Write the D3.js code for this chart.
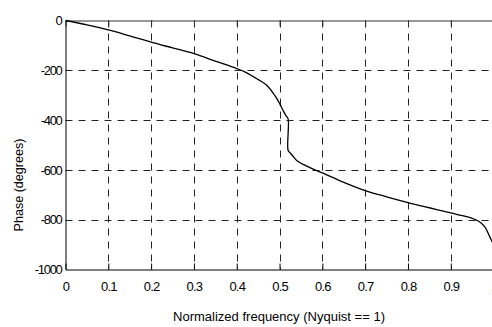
<!DOCTYPE html>
<html>
<head>
<meta charset="utf-8">
<script src="https://cdn.jsdelivr.net/npm/d3@7"></script>
<style>
  body { margin: 0; background: #fff; }
  svg text { font-family: "Liberation Sans", Arial, sans-serif; fill: #000; }
</style>
</head>
<body>
<script>
// normalized frequency / phase (degrees)
const freq = [0, 0.05, 0.1, 0.15, 0.2, 0.25, 0.3, 0.35, 0.4, 0.42, 0.45, 0.47, 0.49, 0.5, 0.51, 0.515, 0.52, 0.52, 0.525, 0.53, 0.54, 0.56, 0.58, 0.6, 0.65, 0.7, 0.75, 0.8, 0.85, 0.9, 0.93, 0.95, 0.96, 0.97, 0.98, 0.99, 1.0];
const phase = [0, -18, -38, -62, -87, -110, -133, -163, -193, -207, -237, -260, -304, -333, -367, -382, -395, -522, -532, -542, -562, -582, -598, -612, -650, -683, -708, -731, -752, -773, -785, -795, -802, -812, -830, -865, -900];
const xTicks = [0, 0.1, 0.2, 0.3, 0.4, 0.5, 0.6, 0.7, 0.8, 0.9, 1];
const yTicks = [0, -200, -400, -600, -800, -1000];

const w = 492;
const h = 327;
const pLeft = 65.5, pRight = 493.6, pTop = 20.5, pBottom = 269.5;

const svg = d3.select('body')
              .append('svg')
              .attr('width', w)
              .attr('height', h)

const x = d3.scaleLinear()
            .domain([0, 1])
            .range([pLeft, pRight])
const y = d3.scaleLinear()
            .domain([-1000, 0])
            .range([pBottom, pTop])

// dashed grid
const grid = svg.append('g')
                .attr('stroke', '#222')
                .attr('stroke-width', 1)
                .attr('stroke-dasharray', '7,6')
grid.selectAll('line.vx')
    .data(xTicks.filter(d => d > 0 && d < 1))
    .enter()
    .append('line')
    .attr('x1', d => Math.round(x(d)) + 0.5)
    .attr('x2', d => Math.round(x(d)) + 0.5)
    .attr('y1', pTop)
    .attr('y2', pBottom)
grid.selectAll('line.hy')
    .data(yTicks.filter(d => d > -1000 && d < 0))
    .enter()
    .append('line')
    .attr('x1', pLeft)
    .attr('x2', w)
    .attr('y1', d => Math.round(y(d)) + 0.5)
    .attr('y2', d => Math.round(y(d)) + 0.5)

// axes box
const xAxisB = d3.axisBottom(x)
                 .tickValues(xTicks)
                 .tickSizeInner(-6)
                 .tickSizeOuter(0)
                 .tickPadding(12)
                 .tickFormat(d => String(d))
svg.append('g')
   .attr('transform', `translate(0,${pBottom})`)
   .call(xAxisB)
   .call(g => g.select('.domain').attr('stroke', '#000'))
   .call(g => g.selectAll('.tick line').attr('stroke', '#000'))
   .call(g => g.selectAll('.tick text')
               .attr('font-size', 13)
               .attr('letter-spacing', -0.8)
               .attr('font-family', '"Liberation Sans", Arial, sans-serif'))

const xAxisT = d3.axisTop(x)
                 .tickValues(xTicks)
                 .tickSizeInner(-6)
                 .tickSizeOuter(0)
                 .tickFormat('')
svg.append('g')
   .attr('transform', `translate(0,${pTop})`)
   .call(xAxisT)
   .call(g => g.select('.domain').attr('stroke', '#333'))
   .call(g => g.selectAll('.tick line').attr('stroke', '#333'))

const yAxis = d3.axisLeft(y)
                .tickValues(yTicks)
                .tickSizeInner(0)
                .tickSizeOuter(0)
                .tickPadding(4)
                .tickFormat(d => String(d))
svg.append('g')
   .attr('transform', `translate(${pLeft},0)`)
   .call(yAxis)
   .call(g => g.select('.domain').attr('stroke', '#000'))
   .call(g => g.selectAll('.tick text')
               .attr('font-size', 13)
               .attr('letter-spacing', -1.3)
               .attr('font-family', '"Liberation Sans", Arial, sans-serif'))

// phase curve
const line = d3.line()
               .x((d, i) => x(freq[i]))
               .y(d => y(d))
               .curve(d3.curveCatmullRom.alpha(0.5))
svg.append('path')
   .datum(phase)
   .attr('d', line)
   .attr('fill', 'none')
   .attr('stroke', '#000')
   .attr('stroke-width', 1.3)

// labels
svg.append('text')
   .attr('x', 279)
   .attr('y', 321)
   .attr('text-anchor', 'middle')
   .attr('font-size', 12)
   .attr('textLength', 212)
   .attr('lengthAdjust', 'spacingAndGlyphs')
   .text('Normalized frequency (Nyquist == 1)')

svg.append('text')
   .attr('transform', 'translate(23,185) rotate(-90)')
   .attr('text-anchor', 'middle')
   .attr('font-size', 12)
   .attr('textLength', 93)
   .attr('lengthAdjust', 'spacingAndGlyphs')
   .text('Phase (degrees)')
</script>
</body>
</html>
